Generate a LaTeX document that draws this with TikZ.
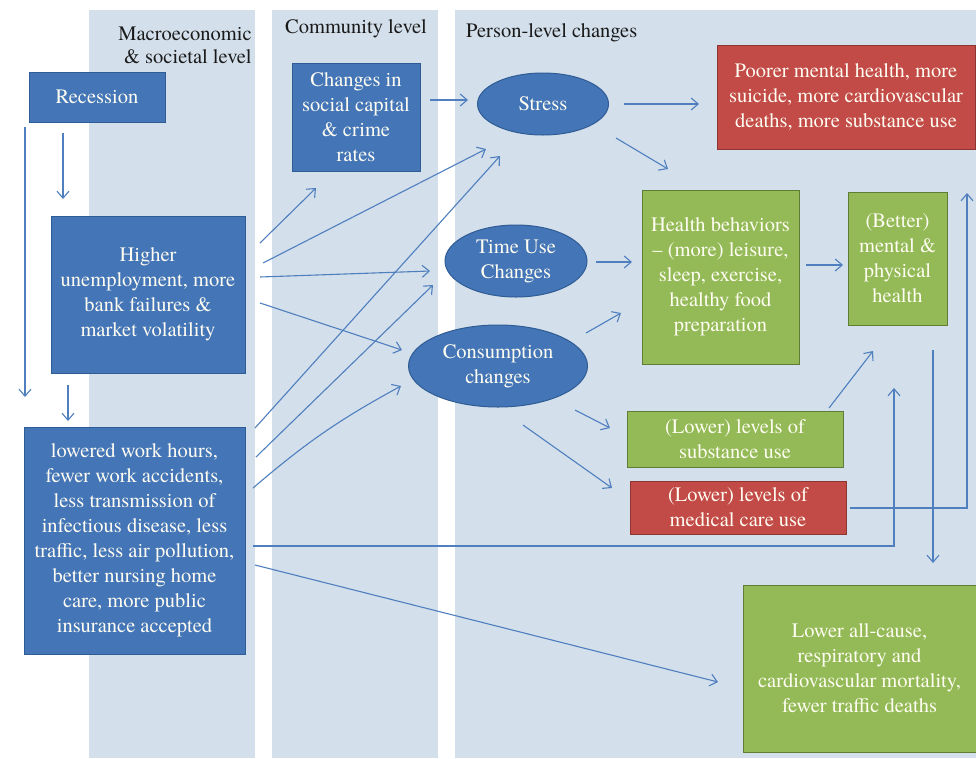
\documentclass[tikz,border=0pt]{standalone}
\usepackage{fontspec}
\setmainfont{texgyretermes}[Extension=.otf, UprightFont=*-regular, BoldFont=*-bold, ItalicFont=*-italic, BoldItalicFont=*-bolditalic]
\usetikzlibrary{shapes.geometric,arrows.meta}
\definecolor{bgpanel}{HTML}{D3DFEB}
\definecolor{nblue}{HTML}{4375B7}
\definecolor{nbluedk}{HTML}{2F5C94}
\definecolor{nred}{HTML}{C24A47}
\definecolor{nreddk}{HTML}{8E3431}
\definecolor{ngreen}{HTML}{93BA57}
\definecolor{ngreendk}{HTML}{5F7D35}
\definecolor{lnblue}{HTML}{4F7FBF}
\definecolor{txt}{HTML}{FFFDF2}
\definecolor{hdrtxt}{HTML}{1A1A1A}
\begin{document}
\begin{tikzpicture}[x=1pt,y=-1pt,
  boxfont/.style={font=\rmfamily\fontsize{20.5}{25}\selectfont},
  box/.style={rectangle, inner sep=0pt, line width=1pt, text=txt, align=center, boxfont},
  bluebox/.style={box, fill=nblue, draw=nbluedk},
  redbox/.style={box, fill=nred, draw=nreddk},
  greenbox/.style={box, fill=ngreen, draw=ngreendk},
  ell/.style={ellipse, inner sep=0pt, fill=nblue, draw=nbluedk, line width=1pt, text=txt, align=center, boxfont},
  hdr/.style={inner sep=0pt, text=hdrtxt, font=\rmfamily\fontsize{20.5}{23}\selectfont},
  arr/.style={draw=lnblue, line width=1.1pt, -{Straight Barb[length=7pt,width=12pt]}},
]
\useasboundingbox (0,0) rectangle (976,758);
\fill[white] (0,0) rectangle (976,758);
% panels
\fill[bgpanel] (89,10) rectangle (255,758);
\fill[bgpanel] (272,10) rectangle (438,758);
\fill[bgpanel] (455,10) rectangle (976,758);
% headers
\node[hdr, align=right] (hmacro) at (185,45) {Macroeconomic\\\& societal level};
\node[hdr, anchor=base] (hcomm) at (356,33.5) {Community level};
\node[hdr, anchor=base west] (hpers) at (466,37) {Person-level changes};
% nodes
\node[bluebox, minimum width=136pt, minimum height=50pt] (rec) at (97,97) {Recession};
\node[bluebox, minimum width=194pt, minimum height=157pt] (high) at (148,294.5) {Higher\\unemployment, more\\bank failures \&\\market volatility};
\node[bluebox, minimum width=221pt, minimum height=227pt] (low) at (134.5,540.5) {lowered work hours,\\fewer work accidents,\\less transmission of\\infectious disease, less\\traffic, less air pollution,\\better nursing home\\care, more public\\insurance accepted};
\node[bluebox, minimum width=128pt, minimum height=108pt] (soc) at (356,117) {Changes in\\social capital\\\& crime\\rates};
\node[ell, minimum width=131pt, minimum height=62pt] (stress) at (543,104) {Stress};
\node[ell, minimum width=142pt, minimum height=72pt] (time) at (516,261) {Time Use\\Changes};
\node[ell, minimum width=179pt, minimum height=82pt] (cons) at (498,366) {Consumption\\changes};
\node[redbox, minimum width=258pt, minimum height=104pt] (poor) at (846,97) {Poorer mental health, more\\suicide, more cardiovascular\\deaths, more substance use};
\node[greenbox, minimum width=157pt, minimum height=174pt] (hb) at (720.5,277) {Health behaviors\\– (more) leisure,\\sleep, exercise,\\healthy food\\preparation};
\node[greenbox, minimum width=99pt, minimum height=133pt] (better) at (897.5,258.5) {(Better)\\mental \&\\physical\\health};
\node[greenbox, minimum width=216pt, minimum height=56pt] (subst) at (735,439) {(Lower) levels of\\substance use};
\node[redbox, minimum width=216pt, minimum height=53pt] (med) at (738,507.5) {(Lower) levels of\\medical care use};
\node[greenbox, minimum width=233pt, minimum height=167pt] (mort) at (859.5,668.5) {Lower all-cause,\\respiratory and\\cardiovascular mortality,\\fewer traffic deaths};
% connector end points
\coordinate (a1s) at (63,133);  \coordinate (a1e) at (63,199);
\coordinate (a2s) at (25,127);  \coordinate (a2e) at (25,397);
\coordinate (a3s) at (68,385);  \coordinate (a3e) at (68,421);
\coordinate (a4s) at (260,243); \coordinate (a4e) at (316,188);
\coordinate (a5s) at (263,263); \coordinate (a5e) at (486,149);
\coordinate (a6s) at (260,277); \coordinate (a6e) at (430,271);
\coordinate (a7s) at (260,303); \coordinate (a7e) at (402,350);
\coordinate (a8s) at (255,428); \coordinate (a8e) at (500,156);
\coordinate (a9s) at (256,457); \coordinate (a9e) at (433,285);
\coordinate (a10s) at (253,488); \coordinate (a10e) at (401,386);
\coordinate (a11s) at (253,546); \coordinate (a11m) at (894,546); \coordinate (a11e) at (894,388);
\coordinate (a12s) at (255,565); \coordinate (a12e) at (718,682);
\coordinate (a13s) at (430,100); \coordinate (a13e) at (468,100);
\coordinate (a14s) at (624,104); \coordinate (a14e) at (699,104);
\coordinate (a15s) at (616,138); \coordinate (a15e) at (668,169);
\coordinate (a16s) at (596,262); \coordinate (a16e) at (632,262);
\coordinate (a17s) at (586,333); \coordinate (a17e) at (621,313);
\coordinate (a18s) at (806,265); \coordinate (a18e) at (843,265);
\coordinate (a19s) at (575,410); \coordinate (a19e) at (610,428);
\coordinate (a20s) at (523,425); \coordinate (a20e) at (612,488);
\coordinate (a21s) at (829,408); \coordinate (a21e) at (873,351);
\coordinate (a22s) at (933,350); \coordinate (a22e) at (933,563);
\coordinate (a23s) at (850,508); \coordinate (a23m) at (967,508); \coordinate (a23e) at (967,193);
% connectors
\draw[arr] (a1s) -- (a1e);
\draw[arr] (a2s) -- (a2e);
\draw[arr] (a3s) -- (a3e);
\draw[arr] (a4s) -- (a4e);
\draw[arr] (a5s) -- (a5e);
\draw[arr] (a6s) -- (a6e);
\draw[arr] (a7s) -- (a7e);
\draw[arr] (a8s) -- (a8e);
\draw[arr] (a9s) -- (a9e);
\draw[arr] (a10s) to[bend left=6] (a10e);
\draw[arr] (a11s) -- (a11m) -- (a11e);
\draw[arr] (a12s) -- (a12e);
\draw[arr] (a13s) -- (a13e);
\draw[arr] (a14s) -- (a14e);
\draw[arr] (a15s) -- (a15e);
\draw[arr] (a16s) -- (a16e);
\draw[arr] (a17s) -- (a17e);
\draw[arr] (a18s) -- (a18e);
\draw[arr] (a19s) -- (a19e);
\draw[arr] (a20s) -- (a20e);
\draw[arr] (a21s) -- (a21e);
\draw[arr] (a22s) -- (a22e);
\draw[arr] (a23s) -- (a23m) -- (a23e);
\end{tikzpicture}
\end{document}
